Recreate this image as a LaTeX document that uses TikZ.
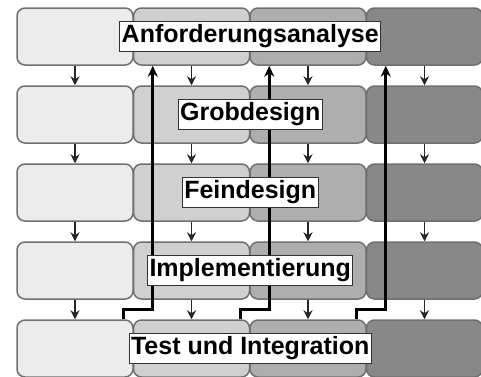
\documentclass[tikz,border=0pt]{standalone}
\usepackage{fontspec}
\setmainfont{Liberation Sans}
\usetikzlibrary{arrows.meta}
\definecolor{wflight}{RGB}{236,236,236}
\definecolor{wfmid}{RGB}{208,208,208}
\definecolor{wfdark}{RGB}{174,174,174}
\definecolor{wfdeep}{RGB}{136,136,136}
\definecolor{wfedge}{RGB}{112,112,112}

\begin{document}
\begin{tikzpicture}[x=0.5pt,y=-0.5pt,
    phase/.style={draw=wfedge,line width=0.75pt,rounded corners=4pt,minimum width=58pt,minimum height=28.5pt,inner sep=0pt},
    down/.style={line width=0.75pt,black!85,-{Stealth[length=4.5pt,width=4.5pt]}},
    back/.style={line width=1.5pt,black,-{Stealth[length=5.5pt,width=5pt]}},
    stage/.style={draw=black!80,line width=0.5pt,fill=white,inner xsep=1pt,inner ysep=0pt,minimum height=15pt,font=\bfseries\fontsize{12.5}{15}\selectfont}]
        \useasboundingbox (0,0) rectangle (481,376);
        \foreach \r in {1,...,5}
          \foreach \c/\tone in {1/wflight,2/wfmid,3/wfdark,4/wfdeep}
            \node[phase,fill=\tone] (b\r\c) at ({75+116.5*(\c-1)},{36.5+78*(\r-1)}) {};
        \foreach \r/\n in {1/2,2/3,3/4,4/5}
          \foreach \c in {1,...,4}
            \draw[down] (b\r\c.south) -- (b\n\c.north);
        \foreach \c/\n in {1/2,2/3,3/4}
          \draw[back] ([xshift=-5pt]b5\c.north east) -- ++(0,-10) -| ([xshift=10pt]b1\n.south west);
        \node[stage] (ana) at (b12.east) {Anforderungsanalyse};
        \node[stage] (grob) at (b22.east) {Grobdesign};
        \node[stage] (fein) at (b32.east) {Feindesign};
        \node[stage] (impl) at (b42.east) {Implementierung};
        \node[stage] (test) at (b52.east) {Test und Integration};
      \end{tikzpicture}
\end{document}
